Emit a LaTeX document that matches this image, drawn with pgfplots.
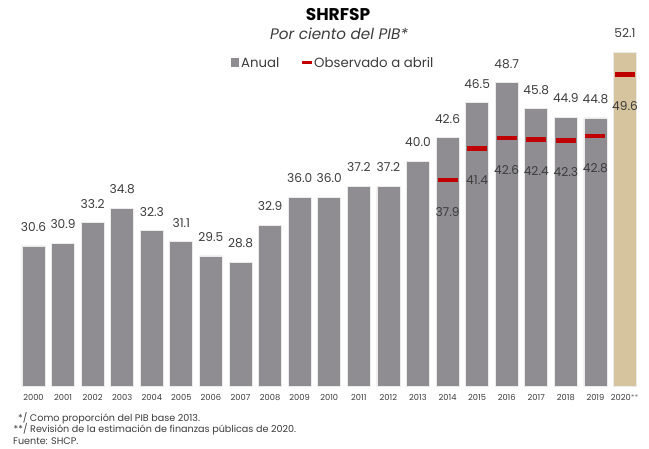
\documentclass[border=0pt]{standalone}
\usepackage{pgfplots}
\pgfplotsset{compat=1.18}
\usepackage{fontspec}
\setmainfont{Poppins}
\definecolor{bargray}{RGB}{143,141,145}
\definecolor{bartan}{RGB}{214,196,158}
\definecolor{obsred}{RGB}{192,0,0}
\definecolor{txt}{RGB}{60,60,60}
\begin{document}
\begin{tikzpicture}[x=1pt,y=1pt]
\path[use as bounding box] (0,0) rectangle (649,449);
\begin{axis}[
  at={(18.7pt,62.3pt)}, anchor=south west,
  scale only axis, width=621.1pt, height=369.8pt,
  xmin=-0.5, xmax=20.5, ymin=15, ymax=56,
  axis line style={draw=none}, ymajorticks=false,
  xtick={0,...,20},
  xticklabels={2000,2001,2002,2003,2004,2005,2006,2007,2008,2009,2010,2011,2012,2013,2014,2015,2016,2017,2018,2019,2020$^{**}$},
  major tick length=0pt,
  xticklabel style={font=\fontsize{8.3}{9}\selectfont, text=txt, inner sep=0pt, anchor=north, yshift=-7pt},
  point meta=explicit symbolic,
]
\addplot[ybar, bar width=23pt, bar shift=0pt, fill=bargray, draw=black!8, line width=0.8pt,
  nodes near coords,
  every node near coord/.append style={font=\fontsize{12.2}{13}\selectfont, text=txt, inner sep=0pt, anchor=south, yshift=14pt}]
  table[x=x, y=y, meta=lbl] {
x y lbl
0 30.6 30.6
1 30.9 30.9
2 33.2 33.2
3 34.8 34.8
4 32.3 32.3
5 31.1 31.1
6 29.5 29.5
7 28.8 28.8
8 32.9 32.9
9 36.0 36.0
10 36.0 36.0
11 37.2 37.2
12 37.2 37.2
13 40.0 40.0
14 42.6 42.6
15 46.5 46.5
16 48.7 48.7
17 45.8 45.8
18 44.9 44.9
19 44.8 44.8
};
\addplot[ybar, bar width=23pt, bar shift=0pt, fill=bartan, draw=black!8, line width=0.8pt,
  nodes near coords,
  every node near coord/.append style={font=\fontsize{12.2}{13}\selectfont, text=txt, inner sep=0pt, anchor=south, yshift=14pt}]
  table[x=x, y=y, meta=lbl] {
x y lbl
20 52.1 52.1
};
\addplot[only marks, mark=-, mark size=10pt, mark options={draw=obsred, line width=4.5pt},
  nodes near coords,
  every node near coord/.append style={font=\fontsize{12.2}{13}\selectfont, text=txt, inner sep=0pt, anchor=north, yshift=-25pt}]
  table[x=x, y=y, meta=lbl] {
x y lbl
14 37.9 37.9
15 41.4 41.4
16 42.6 42.6
17 42.4 42.4
18 42.3 42.3
19 42.8 42.8
20 49.6 49.6
};
\end{axis}
% titles
\node[font=\fontsize{17}{20}\selectfont\bfseries, text=black] at (338,434) {SHRFSP};
\node[font=\fontsize{15.2}{18}\selectfont\itshape, text=txt] at (339,415.5) {Por ciento del PIB*};
% legend
\fill[bargray] (230.5,382) rectangle (239,390.5);
\node[anchor=west, font=\fontsize{13.3}{15}\selectfont, text=txt, inner sep=0pt] at (241,386.5) {Anual};
\fill[obsred] (302,385.3) rectangle (312,387.7);
\node[anchor=west, font=\fontsize{13.3}{15}\selectfont, text=txt, inner sep=0pt] at (314,386.5) {Observado a abril};
% notes
\node[anchor=west, font=\fontsize{9.6}{11}\selectfont, text=txt, inner sep=0pt] at (18,31) {*/ Como proporción del PIB base 2013.};
\node[anchor=west, font=\fontsize{9.6}{11}\selectfont, text=txt, inner sep=0pt] at (13.5,19.5) {**/ Revisión de la estimación de finanzas públicas de 2020.};
\node[anchor=west, font=\fontsize{9.6}{11}\selectfont, text=txt, inner sep=0pt] at (13,8) {Fuente: SHCP.};
\end{tikzpicture}
\end{document}
